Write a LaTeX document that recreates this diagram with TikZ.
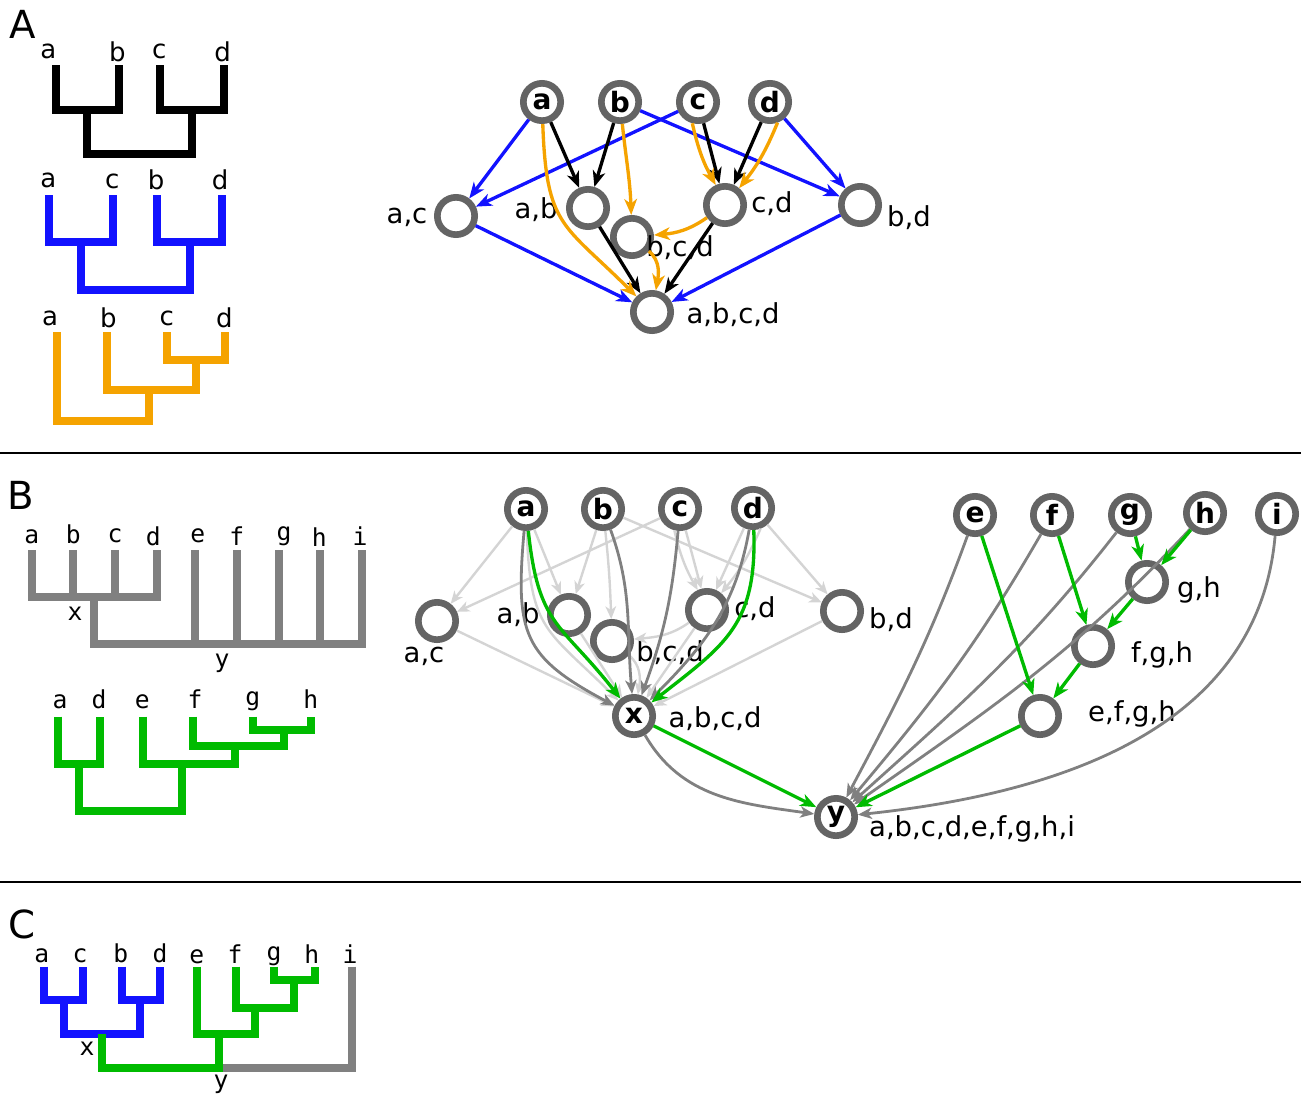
\documentclass[tikz,border=0pt]{standalone}
\usepackage{fontspec}
\setmainfont{DejaVu Sans}
\newfontfamily\monof{DejaVu Sans Mono}
\usetikzlibrary{arrows.meta}
\definecolor{ngray}{RGB}{100,100,100}
\definecolor{dgray}{RGB}{128,128,128}
\definecolor{lgray}{RGB}{212,212,212}
\definecolor{myblue}{RGB}{18,18,255}
\definecolor{mygreen}{RGB}{0,187,0}
\definecolor{myorange}{RGB}{245,163,0}
\tikzset{
 gnode/.style={circle, draw=ngray, line width=5pt, fill=white, minimum size=28pt, inner sep=0pt, font=\fontsize{21}{24}\selectfont\bfseries},
 glab/.style={font=\fontsize{20.6}{24}\selectfont, inner sep=0pt},
 tlab/.style={font=\fontsize{19.5}{22}\selectfont, inner sep=0pt, anchor=base},
 mlab/.style={font=\monof\fontsize{18.5}{22}\selectfont, inner sep=0pt, anchor=base},
 tree/.style={line width=6pt, line join=miter},
 bigl/.style={font=\fontsize{29}{34}\selectfont, inner sep=0pt},
 ebig/.style={line width=2.5pt, -{Stealth[length=12pt,width=9.5pt,inset=3.5pt]}},
 edark/.style={dgray, line width=2.1pt, -{Stealth[length=10.5pt,width=8.5pt,inset=3pt]}},
 elight/.style={lgray, line width=1.8pt, -{Stealth[length=9.5pt,width=8pt,inset=2.8pt]}},
}
\begin{document}
\begin{tikzpicture}[x=0.75pt,y=-0.75pt]
\useasboundingbox (0,0) rectangle (1301,1096);
% separators
\draw[line width=1.5pt] (0,453) coordinate (s1a) -- (1301,453) coordinate (s1b);
\draw[line width=1.5pt] (0,882) coordinate (s2a) -- (1301,882) coordinate (s2b);
% panel letters
\node[bigl] (LA) at (23,24) {A};
\node[bigl] (LB) at (21,495) {B};
\node[bigl] (LC) at (22,924) {C};

% ---------------- Panel A trees
\draw[tree] (55.5,65) |- (119,110) -- (119,65);
\draw[tree] (160,65) |- (224,110) -- (224,65);
\draw[tree] (87.25,110) |- (192,154) -- (192,110);
\node[tlab] (ta1) at (48.3,58) {a};
\node[tlab] (tb1) at (117.3,61) {b};
\node[tlab] (tc1) at (159.3,58) {c};
\node[tlab] (td1) at (222.7,61) {d};

\draw[tree,myblue] (49,195) |- (113,242) -- (113,195);
\draw[tree,myblue] (157,195) |- (222,242) -- (222,195);
\draw[tree,myblue] (81,242) |- (189.5,289.5) -- (189.5,242);
\node[tlab] (ta2) at (48.3,187) {a};
\node[tlab] (tc2) at (112.3,188) {c};
\node[tlab] (tb2) at (156,189) {b};
\node[tlab] (td2) at (220,189) {d};

\draw[tree,myorange] (167,332) |- (224.7,359.5) -- (224.7,332);
\draw[tree,myorange] (106.7,332) |- (196,390) -- (196,359.5);
\draw[tree,myorange] (56.7,332) |- (149,421) -- (149,390);
\node[tlab] (ta3) at (50,325) {a};
\node[tlab] (tb3) at (108.3,327) {b};
\node[tlab] (tc3) at (166.7,325) {c};
\node[tlab] (td3) at (224.3,327) {d};

% ---------------- Panel A graph
\node[gnode] (Aa) at (542,102) {a};
\node[gnode] (Ab) at (620,102) {b};
\node[gnode] (Ac) at (698,102) {c};
\node[gnode] (Ad) at (770,102) {d};
\node[gnode] (Aac) at (456,216) {};
\node[gnode] (Aab) at (588,208) {};
\node[gnode] (Abcd) at (632,237) {};
\node[gnode] (Acd) at (725,205) {};
\node[gnode] (Abd) at (860,205) {};
\node[gnode] (Aabcd) at (652,312) {};
\node[glab] (lAac) at (407,217) {a,c};
\node[glab] (lAab) at (536,210) {a,b};
\node[glab] (lAbcd) at (680,248) {b,c,d};
\node[glab] (lAcd) at (772,204) {c,d};
\node[glab] (lAbd) at (909,218) {b,d};
\node[glab] (lAabcd) at (733,315) {a,b,c,d};

\begin{scope}[ebig, myblue]
\draw (Aa) -- (Aac);
\draw (Ac) -- (Aac);
\draw (Ab) -- (Abd);
\draw (Ad) -- (Abd);
\draw (Aac) -- (Aabcd);
\draw (Abd) -- (Aabcd);
\end{scope}
\begin{scope}[ebig, black]
\draw (Aa) -- (Aab);
\draw (Ab) -- (Aab);
\draw (Ac) -- (Acd);
\draw (Ad) -- (Acd);
\draw (Aab) -- (Aabcd);
\draw (Acd) -- (Aabcd);
\end{scope}
\begin{scope}[ebig, myorange]
\draw (Aa) to[out=-88,in=135,looseness=1.35] (Aabcd);
\draw (Ab) to[out=-84,in=92] (Abcd);
\draw (Ac.255) to[bend right=8] (Acd.115);
\draw (Ad.-70) to[bend left=8] (Acd.50);
\draw (Acd) to[out=-145,in=5] (Abcd);
\draw (Abcd) to[out=-40,in=80] (Aabcd);
\end{scope}

% ---------------- Panel B trees
\draw[tree,dgray] (31.7,550) |- (156.7,596.7) -- (156.7,550);
\draw[tree,dgray] (73.3,550) -- (73.3,596.7);
\draw[tree,dgray] (115,550) -- (115,596.7);
\draw[tree,dgray] (94,596.7) |- (362,644) -- (362,550);
\draw[tree,dgray] (195,550) -- (195,644);
\draw[tree,dgray] (237,550) -- (237,644);
\draw[tree,dgray] (278.5,550) -- (278.5,644);
\draw[tree,dgray] (320,550) -- (320,644);
\node[mlab] (ma1) at (31.7,543) {a};
\node[mlab] (mb1) at (73.3,543) {b};
\node[mlab] (mc1) at (115,542) {c};
\node[mlab] (md1) at (153.3,545) {d};
\node[mlab] (me1) at (197.7,542) {e};
\node[mlab] (mf1) at (236.7,545) {f};
\node[mlab] (mg1) at (284,540) {g};
\node[mlab] (mh1) at (319.3,546) {h};
\node[mlab] (mi1) at (360,545) {i};
\node[mlab,anchor=center] (mx1) at (75,614) {x};
\node[mlab,anchor=center] (my1) at (222,663) {y};

\draw[tree,mygreen] (253,716.7) |- (310.5,729.7) -- (310.5,716.7);
\draw[tree,mygreen] (193,716.7) |- (284,746) -- (284,729.7);
\draw[tree,mygreen] (143,716.7) |- (234.7,763.8) -- (234.7,746);
\draw[tree,mygreen] (58,716.7) |- (99.7,763.8) -- (99.7,716.7);
\draw[tree,mygreen] (79,763.8) |- (182,811) -- (182,763.8);
\node[mlab] (ma2) at (60,708) {a};
\node[mlab] (md2) at (99,708) {d};
\node[mlab] (me2) at (142.3,708) {e};
\node[mlab] (mf2) at (195,708) {f};
\node[mlab] (mg2) at (252.7,705) {g};
\node[mlab] (mh2) at (310.7,708) {h};

% ---------------- Panel B graph
\node[gnode] (Ba) at (526,509) {a};
\node[gnode] (Bb) at (603,509) {b};
\node[gnode] (Bc) at (680,509) {c};
\node[gnode] (Bd) at (753,508) {d};
\node[gnode] (Bac) at (437,621) {};
\node[gnode] (Bab) at (569,615) {};
\node[gnode] (Bbcd) at (612,641) {};
\node[gnode] (Bcd) at (707,610) {};
\node[gnode] (Bbd) at (842,611) {};
\node[gnode] (Bx) at (634,716) {x};
\node[gnode] (Be) at (975,515) {e};
\node[gnode] (Bf) at (1052,515) {f};
\node[gnode] (Bg) at (1130,515) {g};
\node[gnode] (Bh) at (1205,513) {h};
\node[gnode] (Bi) at (1277,514) {i};
\node[gnode] (Bgh) at (1147,582) {};
\node[gnode] (Bfgh) at (1093,646) {};
\node[gnode] (Befgh) at (1040,716) {};
\node[gnode] (By) at (836,817) {y};
\node[glab] (lBac) at (424,656) {a,c};
\node[glab] (lBab) at (518,615) {a,b};
\node[glab] (lBbcd) at (670,653) {b,c,d};
\node[glab] (lBcd) at (755,609) {c,d};
\node[glab] (lBbd) at (891,620) {b,d};
\node[glab] (lBx) at (715,719) {a,b,c,d};
\node[glab] (lBgh) at (1199,590) {g,h};
\node[glab] (lBfgh) at (1162,655) {f,g,h};
\node[glab] (lBefgh) at (1132,714) {e,f,g,h};
\node[glab] (lBy) at (972,829) {a,b,c,d,e,f,g,h,i};

\begin{scope}[elight]
\draw (Ba) -- (Bac);
\draw (Bc) -- (Bac);
\draw (Bb) -- (Bbd);
\draw (Bd) -- (Bbd);
\draw (Bac) -- (Bx);
\draw (Bbd) -- (Bx);
\draw (Ba) -- (Bab);
\draw (Bb) -- (Bab);
\draw (Bc) -- (Bcd);
\draw (Bd) -- (Bcd);
\draw (Bab) -- (Bx);
\draw (Bcd) -- (Bx);
\draw (Ba) to[out=-88,in=135,looseness=1.35] (Bx);
\draw (Bb) to[out=-84,in=92] (Bbcd);
\draw (Bc.255) to[bend right=8] (Bcd.115);
\draw (Bd.-70) to[bend left=8] (Bcd.50);
\draw (Bcd) to[out=-145,in=5] (Bbcd);
\draw (Bbcd) to[out=-40,in=80] (Bx);
\end{scope}
\begin{scope}[edark]
\draw (Ba) to[out=-95,in=152,looseness=1.35] (Bx);
\draw (Bb) to[out=-70,in=95] (Bx);
\draw (Bc) to[out=-95,in=70] (Bx);
\draw (Bd) to[out=-100,in=45] (Bx);
\draw (Bx) to[out=-60,in=172] (By);
\draw (Be) to[out=-110,in=62] (By);
\draw (Bf) to[out=-120,in=50] (By);
\draw (Bg) to[out=-128,in=42] (By);
\draw (Bh) to[out=-133,in=35] (By);
\draw (Bi) to[out=-95,in=6] (By);
\end{scope}
\begin{scope}[ebig, mygreen]
\draw (Ba) to[out=-84,in=128,looseness=1.3] (Bx);
\draw (Bd) to[out=-88,in=38,looseness=1.2] (Bx);
\draw (Bx) -- (By);
\draw (Be) -- (Befgh);
\draw (Bf) -- (Bfgh);
\draw (Bg) -- (Bgh);
\draw (Bh) -- (Bgh);
\draw (Bgh) -- (Bfgh);
\draw (Bfgh) -- (Befgh);
\draw (Befgh) -- (By);
\end{scope}

% ---------------- Panel C tree
\draw[tree,myblue] (44,966.7) |- (82.7,1000) -- (82.7,966.7);
\draw[tree,myblue] (121.5,966.7) |- (159.8,1000) -- (159.8,966.7);
\draw[tree,myblue] (63.8,1000) |- (140,1033.5) -- (140,1000);
\draw[tree,dgray] (351.7,966.7) |- (222.8,1068);
\draw[tree,mygreen] (274,966.7) |- (314.5,980) -- (314.5,966.7);
\draw[tree,mygreen] (236,966.7) |- (294,1008) -- (294,980);
\draw[tree,mygreen] (196.7,966.7) |- (254.8,1033.8) -- (254.8,1008);
\draw[tree,mygreen] (101.5,1033.5) |- (218.8,1068) -- (218.8,1033.8);
\node[mlab] (ma3) at (41.7,962) {a};
\node[mlab] (mc3) at (80,962) {c};
\node[mlab] (mb3) at (120.7,962) {b};
\node[mlab] (md3) at (160,962) {d};
\node[mlab] (me3) at (196.7,963) {e};
\node[mlab] (mf3) at (235,963) {f};
\node[mlab] (mg3) at (274,960) {g};
\node[mlab] (mh3) at (311.7,963) {h};
\node[mlab] (mi3) at (350,963) {i};
\node[mlab,anchor=center] (mx3) at (87,1049) {x};
\node[mlab,anchor=center] (my3) at (221,1084) {y};
\end{tikzpicture}
\end{document}
